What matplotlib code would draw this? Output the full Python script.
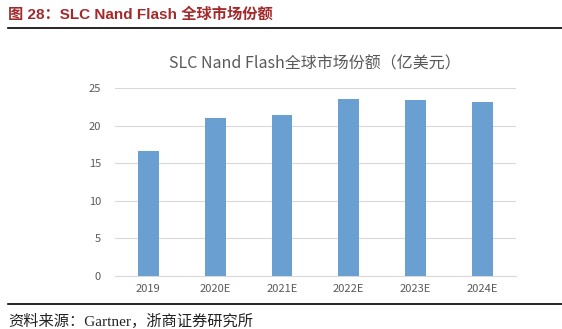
import numpy as np
import matplotlib.pyplot as plt

plt.rcParams['font.family'] = ['Noto Sans CJK SC', 'DejaVu Sans']

# 数据
years = ['2019', '2020E', '2021E', '2022E', '2023E', '2024E']
market = [16.7, 21.0, 21.4, 23.6, 23.5, 23.2]

fig = plt.figure(figsize=(5.62, 3.29), dpi=100)

# 图表标题与顶部横线
fig.text(0.014, 0.957, '图 28：SLC Nand Flash 全球市场份额', color='#a3292b',
         fontsize=11, fontweight='bold', va='center', ha='left',
         family=['Liberation Sans', 'Noto Sans CJK SC'])
fig.add_artist(plt.Line2D([0.014, 1.0], [0.915, 0.915], color='black', lw=1.2))

ax = fig.add_axes([0.2046, 0.161, 0.713, 0.5706])
x = np.arange(len(years))
ax.bar(x, market, width=0.31, color='#6a9fd1', zorder=3)

ax.set_xlim(-0.5, len(years) - 0.5)
ax.set_ylim(0, 25)
ax.set_yticks(np.arange(0, 26, 5))
ax.set_xticks(x)
ax.set_xticklabels(years)
ax.grid(axis='y', color='#d9d9d9', lw=0.8, zorder=0)
for s in ['top', 'right', 'left']:
    ax.spines[s].set_visible(False)
ax.spines['bottom'].set_color('#d9d9d9')
ax.tick_params(length=0, labelsize=8, colors='#595959', pad=6)
ax.tick_params(axis='y', pad=10)

ax.set_title('SLC Nand Flash全球市场份额（亿美元）', fontsize=11.5,
             color='#595959', pad=14)

# 资料来源
fig.add_artist(plt.Line2D([0.014, 1.0], [0.076, 0.076], color='black', lw=1.2))
fig.text(0.014, 0.022, '资料来源：Gartner，浙商证券研究所', fontsize=11,
         color='#222222', va='center', ha='left',
         family=['Liberation Serif', 'Noto Sans CJK SC'])

plt.savefig('out.png', dpi=100)
